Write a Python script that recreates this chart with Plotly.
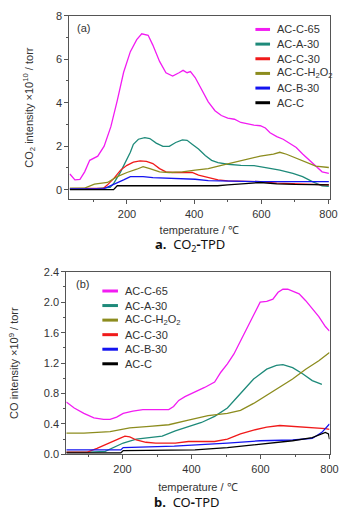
import plotly.graph_objects as go

W, H = 358, 522

# ---------------- data: (a) CO2-TPD ----------------
co2_names = ["AC-C-65", "AC-A-30", "AC-C-30", "AC-C-H<sub>2</sub>O<sub>2</sub>", "AC-B-30", "AC-C"]
co2_colors = ["#F21CF2", "#1E8A7A", "#F01A1A", "#8C8C1E", "#1414F0", "#000000"]

co2_65_x = [30, 45, 60, 74, 89, 113, 132, 152, 171, 190, 210, 229, 244, 263, 277, 297, 316, 336, 355, 367,
            379, 389, 403, 423, 442, 462, 481, 500, 520, 539, 559, 578, 597, 612, 626, 646, 665, 685, 704,
            723, 743, 762, 781, 801]
co2_65_y = [0.72, 0.45, 0.47, 0.82, 1.35, 1.54, 2.0, 2.9, 4.1, 5.4, 6.35, 6.9, 7.17, 7.1, 6.65, 5.9, 5.38,
            5.23, 5.38, 5.49, 5.38, 5.43, 5.16, 4.56, 4.04, 3.63, 3.41, 3.29, 3.24, 3.09, 3.02, 2.97, 2.94,
            2.84, 2.62, 2.44, 2.32, 2.14, 1.94, 1.64, 1.35, 1.05, 0.82, 0.75]

co2_a30_x = [30, 100, 150, 161, 181, 200, 210, 219, 234, 253, 268, 287, 307, 326, 345, 365, 379, 394, 413,
             433, 452, 471, 500, 539, 578, 617, 655, 694, 723, 752, 781, 801]
co2_a30_y = [0.03, 0.04, 0.1, 0.3, 0.82, 1.42, 1.72, 2.09, 2.32, 2.39, 2.35, 2.14, 1.99, 1.99, 2.17, 2.29,
             2.27, 2.09, 1.87, 1.57, 1.35, 1.24, 1.17, 1.12, 1.11, 1.0, 0.9, 0.75, 0.6, 0.37, 0.18, 0.15]

co2_c30_x = [30, 130, 142, 161, 181, 200, 219, 239, 258, 277, 297, 316, 336, 365, 394, 413, 442, 471, 500,
             549, 597, 646, 694, 743, 801]
co2_c30_y = [0.05, 0.07, 0.22, 0.52, 0.9, 1.12, 1.27, 1.32, 1.3, 1.2, 0.97, 0.82, 0.79, 0.79, 0.79, 0.67,
             0.55, 0.45, 0.4, 0.37, 0.37, 0.3, 0.27, 0.25, 0.22]

co2_h2o2_x = [30, 74, 103, 142, 171, 200, 229, 248, 268, 297, 326, 365, 403, 442, 481, 520, 559, 597, 636,
              655, 675, 704, 733, 762, 801]
co2_h2o2_y = [0.07, 0.07, 0.25, 0.33, 0.6, 0.79, 0.94, 1.06, 0.97, 0.82, 0.79, 0.82, 0.9, 0.97, 1.12,
              1.27, 1.42, 1.54, 1.64, 1.72, 1.63, 1.45, 1.24, 1.08, 1.02]

co2_b30_x = [30, 130, 142, 171, 190, 210, 248, 277, 326, 365, 403, 442, 500, 597, 694, 801]
co2_b30_y = [0.03, 0.04, 0.12, 0.3, 0.45, 0.6, 0.6, 0.55, 0.52, 0.52, 0.48, 0.42, 0.4, 0.37, 0.37, 0.37]

co2_c_x = [30, 160, 171, 300, 470, 500, 559, 597, 646, 700, 801]
co2_c_y = [0.0, 0.0, 0.18, 0.18, 0.18, 0.22, 0.3, 0.33, 0.27, 0.24, 0.22]

co2_series = [(co2_65_x, co2_65_y), (co2_a30_x, co2_a30_y), (co2_c30_x, co2_c30_y),
              (co2_h2o2_x, co2_h2o2_y), (co2_b30_x, co2_b30_y), (co2_c_x, co2_c_y)]

# ---------------- data: (b) CO-TPD ----------------
co_names = ["AC-C-65", "AC-A-30", "AC-C-H<sub>2</sub>O<sub>2</sub>", "AC-C-30", "AC-B-30", "AC-C"]
co_colors = ["#F21CF2", "#1E8A7A", "#8C8C1E", "#F01A1A", "#1414F0", "#000000"]

co_65_x = [37, 60, 88, 117, 145, 164, 183, 202, 230, 259, 296, 334, 348, 363, 381, 410, 438, 467, 485, 504,
           523, 542, 561, 580, 599, 618, 636, 651, 665, 679, 693, 712, 731, 750, 769, 788, 800]
co_65_y = [0.69, 0.61, 0.54, 0.48, 0.46, 0.46, 0.49, 0.54, 0.57, 0.59, 0.59, 0.59, 0.63, 0.71, 0.76, 0.82,
           0.88, 0.95, 1.08, 1.19, 1.32, 1.49, 1.66, 1.85, 2.0, 2.01, 2.04, 2.13, 2.17, 2.17, 2.14, 2.11,
           2.02, 1.92, 1.81, 1.68, 1.62]

co_a30_x = [37, 100, 150, 174, 202, 240, 278, 315, 353, 391, 429, 467, 504, 542, 580, 618, 646, 665, 693,
            722, 750, 778]
co_a30_y = [0.03, 0.03, 0.04, 0.09, 0.15, 0.2, 0.22, 0.24, 0.31, 0.36, 0.42, 0.5, 0.61, 0.8, 0.99, 1.12,
            1.17, 1.18, 1.14, 1.06, 0.97, 0.92]

co_h2o2_x = [37, 88, 164, 221, 278, 334, 391, 448, 504, 542, 580, 618, 656, 693, 731, 769, 800]
co_h2o2_y = [0.28, 0.28, 0.3, 0.35, 0.37, 0.39, 0.45, 0.51, 0.54, 0.58, 0.67, 0.78, 0.89, 0.99, 1.12,
             1.23, 1.34]

co_c30_x = [37, 98, 126, 164, 192, 207, 221, 240, 268, 296, 353, 391, 467, 504, 542, 580, 618, 656, 693,
            750, 788, 800]
co_c30_y = [0.03, 0.03, 0.08, 0.15, 0.21, 0.24, 0.23, 0.19, 0.16, 0.15, 0.15, 0.17, 0.17, 0.2, 0.27, 0.32,
            0.36, 0.38, 0.37, 0.36, 0.34, 0.33]

co_b30_x = [37, 195, 202, 350, 504, 599, 693, 750, 778, 800]
co_b30_y = [0.06, 0.06, 0.09, 0.11, 0.15, 0.18, 0.19, 0.21, 0.29, 0.4]

co_c_x = [37, 195, 202, 410, 504, 599, 693, 750, 788, 797, 800]
co_c_y = [0.02, 0.02, 0.05, 0.06, 0.09, 0.14, 0.18, 0.22, 0.29, 0.27, 0.2]

co_series = [(co_65_x, co_65_y), (co_a30_x, co_a30_y), (co_h2o2_x, co_h2o2_y),
             (co_c30_x, co_c30_y), (co_b30_x, co_b30_y), (co_c_x, co_c_y)]

x_ticks = [200, 400, 600, 800]

# ---------------- figure ----------------
FONT = "Liberation Sans Narrow, Liberation Sans, Arial, sans-serif"
CAP = "Noto Sans, Open Sans, DejaVu Sans, sans-serif"
TXT = "#333333"
AX = "#555555"


def px_x(p):
    return p / W


def px_y(p):
    return 1 - p / H


fig = go.Figure()

for (xs, ys), name, col in zip(co2_series, co2_names, co2_colors):
    fig.add_trace(go.Scatter(x=xs, y=ys, mode="lines", name=name, showlegend=False,
                             line=dict(color=col, width=1.3), xaxis="x", yaxis="y"))
for (xs, ys), name, col in zip(co_series, co_names, co_colors):
    fig.add_trace(go.Scatter(x=xs, y=ys, mode="lines", name=name, showlegend=False,
                             line=dict(color=col, width=1.3), xaxis="x2", yaxis="y2"))

axis_common = dict(showline=True, linecolor=AX, linewidth=1, mirror=True, ticks="outside",
                   ticklen=4, tickcolor=AX, showgrid=False, zeroline=False,
                   tickfont=dict(family=FONT, size=11, color=TXT))

fig.update_layout(
    width=W, height=H, margin=dict(l=0, r=0, t=0, b=0),
    paper_bgcolor="white", plot_bgcolor="white", showlegend=False,
    font=dict(family=FONT, size=11, color=TXT),
    xaxis=dict(domain=[px_x(71), px_x(338)], range=[28, 803], anchor="y",
               tickvals=x_ticks, minor=dict(dtick=100, tick0=0, ticks="outside", ticklen=2, tickcolor=AX),
               title=dict(text="temperature / ℃", standoff=7, font=dict(family=FONT, size=11, color=TXT)),
               **axis_common),
    yaxis=dict(domain=[px_y(198), px_y(10)], range=[-0.45, 8], anchor="x",
               tickvals=[0, 2, 4, 6, 8], minor=dict(dtick=1, tick0=0, ticks="outside", ticklen=2, tickcolor=AX),
               title=dict(text="CO<sub>2</sub> intensity ×10<sup>10</sup> / torr", standoff=20,
                          font=dict(family=FONT, size=11, color=TXT)),
               **axis_common),
    xaxis2=dict(domain=[px_x(68), px_x(338)], range=[37, 800], anchor="y2",
                tickvals=x_ticks, minor=dict(dtick=100, tick0=0, ticks="outside", ticklen=2, tickcolor=AX),
                title=dict(text="temperature / ℃", standoff=9, font=dict(family=FONT, size=11, color=TXT)),
                **axis_common),
    yaxis2=dict(domain=[px_y(459), px_y(272)], range=[0, 2.4], anchor="x2",
                tickvals=[0, 0.4, 0.8, 1.2, 1.6, 2.0, 2.4], tickformat=".1f",
                minor=dict(dtick=0.2, tick0=0, ticks="outside", ticklen=2, tickcolor=AX),
                title=dict(text="CO intensity ×10<sup>9</sup> / torr", standoff=22,
                           font=dict(family=FONT, size=11, color=TXT)),
                **axis_common),
)

shapes = []
annotations = []


def add_legend(names, colors, x0, x1, xt, y0, dy):
    for i, (n, c) in enumerate(zip(names, colors)):
        y = y0 + dy * i
        shapes.append(dict(type="line", xref="paper", yref="paper", x0=px_x(x0), x1=px_x(x1),
                           y0=px_y(y), y1=px_y(y), line=dict(color=c, width=3)))
        annotations.append(dict(text=n, xref="paper", yref="paper", x=px_x(xt), y=px_y(y),
                                xanchor="left", yanchor="middle", showarrow=False,
                                font=dict(family=FONT, size=11, color=TXT)))


add_legend(co2_names, co2_colors, 262, 277, 282, 24, 15)
add_legend(co_names, co_colors, 105, 121, 126, 291.7, 14.9)

annotations.append(dict(text="(a)", xref="paper", yref="paper", x=px_x(77), y=px_y(23),
                        xanchor="left", yanchor="middle", showarrow=False,
                        font=dict(family=FONT, size=11, color=TXT)))
annotations.append(dict(text="(b)", xref="paper", yref="paper", x=px_x(76), y=px_y(285),
                        xanchor="left", yanchor="middle", showarrow=False,
                        font=dict(family=FONT, size=11, color=TXT)))

annotations.append(dict(text="<b>a.</b>  CO<sub>2</sub><b>-</b>TPD", xref="paper", yref="paper",
                        x=px_x(195), y=px_y(245), xanchor="center", yanchor="middle", showarrow=False,
                        font=dict(family=CAP, size=13, color="#111111")))
annotations.append(dict(text="<b>b.</b>  CO<b>-</b>TPD", xref="paper", yref="paper",
                        x=px_x(192), y=px_y(508), xanchor="center", yanchor="middle", showarrow=False,
                        font=dict(family=CAP, size=13, color="#111111")))

fig.update_layout(shapes=shapes, annotations=annotations)

fig.write_html("out.html", config={"displayModeBar": False},
               post_script="document.body.style.margin='0';")
